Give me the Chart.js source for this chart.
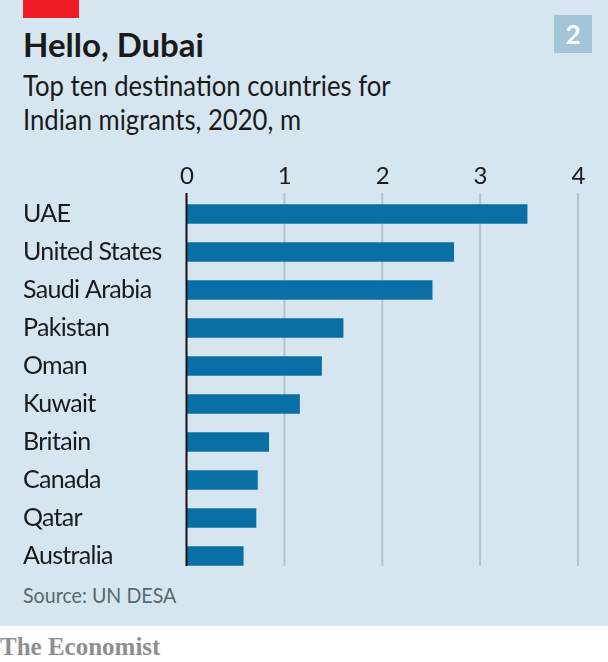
<!DOCTYPE html>
<html>
<head>
<meta charset="utf-8">
<script src="https://cdn.jsdelivr.net/npm/chart.js@4"></script>
<style>
html, body { margin: 0; padding: 0; background: #fff; overflow: hidden; }
#panel { position: absolute; left: 0; top: 0; width: 608px; height: 626px; background: #d6e6f0; }
#red { position: absolute; left: 23px; top: 0; width: 56px; height: 18px; background: #ed1c24; }
#num { position: absolute; left: 554px; top: 15px; width: 38px; height: 38px; line-height: 38px; background: #a2c5d9; color: #fff; font: bold 26px/38px Lato, sans-serif; text-align: center; }
.txt { position: absolute; left: 23px; white-space: nowrap; transform-origin: 0 0; }
#title { top: 24px; font: bold 33px/40px Lato, sans-serif; color: #1a1a1a; }
.sub { font: 28px/34px Lato, sans-serif; color: #1a1a1a; transform: scaleX(0.917); }
#source { top: 582px; font: 21px/26px Lato, sans-serif; color: #5a6670; transform: scaleX(0.935); }
#brand { position: absolute; left: 0; top: 632px; font: bold 25px/30px "Liberation Serif", serif; color: #8f8f8f; }
#c { position: absolute; left: 0; top: 0; }
</style>
</head>
<body>
<div id="panel"></div>
<div id="red"></div>
<div id="num">2</div>
<div class="txt" id="title">Hello, Dubai</div>
<div class="txt sub" style="top:68px">Top ten destination countries for</div>
<div class="txt sub" style="top:102px">Indian migrants, 2020, m</div>
<div class="txt" id="source">Source: UN DESA</div>
<div id="brand">The Economist</div>
<canvas id="c" width="608" height="662"></canvas>
<script>
var countries = ['UAE', 'United States', 'Saudi Arabia', 'Pakistan', 'Oman', 'Kuwait', 'Britain', 'Canada', 'Qatar', 'Australia'];
var migrants = [3.48, 2.73, 2.51, 1.60, 1.38, 1.155, 0.84, 0.725, 0.71, 0.58];
var xTicks = [0, 1, 2, 3, 4];

// grid stops short of the last band, so chart's own grid can't do it
var gridLines = {
    id: 'gridLines',
    beforeDraw: function (chart) {
        chart.ctx.letterSpacing = '-0.7px'; // reference labels are condensed
    },
    beforeDatasetsDraw: function (chart) {
        var ctx = chart.ctx, area = chart.chartArea, x = chart.scales.x;
        ctx.save();
        ctx.lineWidth = 2;
        ctx.strokeStyle = '#b4c3cd';
        xTicks.slice(1).forEach(function (t) {
            var px = x.getPixelForValue(t);
            ctx.beginPath();
            ctx.moveTo(px, area.top - 2);
            ctx.lineTo(px, area.bottom - 9);
            ctx.stroke();
        });
        ctx.restore();
    },
    afterDatasetsDraw: function (chart) {
        var ctx = chart.ctx, area = chart.chartArea, px = chart.scales.x.getPixelForValue(0);
        ctx.save();
        ctx.lineWidth = 2;
        ctx.strokeStyle = '#121212';
        ctx.beginPath();
        ctx.moveTo(px, area.top - 2);
        ctx.lineTo(px, area.bottom - 9);
        ctx.stroke();
        ctx.restore();
    }
};

new Chart(document.getElementById('c'), {
    type: 'bar',
    data: {
        labels: countries,
        datasets: [{ data: migrants, backgroundColor: '#0a6fa5', barThickness: 19 }]
    },
    options: {
        indexAxis: 'y',
        responsive: false,
        animation: false,
        layout: { padding: { left: 23, right: 30, top: 161, bottom: 87 } },
        plugins: { legend: { display: false }, tooltip: { enabled: false } },
        scales: {
            x: {
                position: 'top',
                min: 0,
                max: 4,
                grid: { display: false },
                border: { display: false },
                afterBuildTicks: function (axis) { axis.ticks = xTicks.map(function (v) { return { value: v }; }); },
                afterFit: function (axis) { axis.height = 34; },
                ticks: {
                    maxRotation: 0,
                    padding: -4,
                    color: '#1a1a1a',
                    font: { family: 'Lato', size: 24 }
                }
            },
            y: {
                grid: { display: false },
                border: { display: false },
                afterFit: function (axis) { axis.width = 163.5; },
                ticks: {
                    crossAlign: 'far',
                    padding: 0,
                    color: '#1a1a1a',
                    font: { family: 'Lato', size: 25 }
                }
            }
        }
    },
    plugins: [gridLines]
});
</script>
</body>
</html>
